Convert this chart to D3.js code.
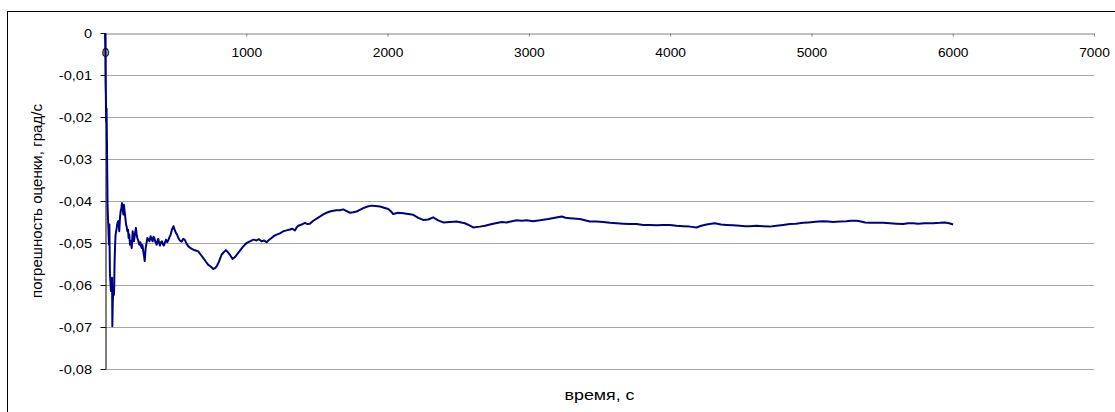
<!DOCTYPE html>
<html lang="ru">
<head>
<meta charset="UTF-8">
<title>Погрешность оценки</title>
<script src="https://d3js.org/d3.v7.min.js"></script>
<style>
    body { margin: 0; background: #fff; }
    svg { display: block; }
    text { font-family: "Liberation Sans", Arial, sans-serif; fill: #000; }
</style>
</head>
<body>
<svg id="chart" width="1115" height="412"></svg>
<script>
// time, s
const times = [0, 2, 4, 6, 8, 11, 14, 16, 18, 21, 24, 28, 31, 35, 38, 42, 46, 50, 52, 55, 59, 64, 68, 72, 75, 80, 83, 88, 94, 98,
    101, 106, 111, 116, 120, 125, 130, 134, 139, 144, 149, 154, 158, 163, 167, 172, 177, 183, 189, 196,
    200, 205, 212, 219, 224, 229, 236, 243, 250, 259, 265, 271, 276, 281, 285, 288, 294, 300, 308, 315,
    323, 330, 337, 343, 349, 357, 366, 372, 377, 383, 389, 396, 403, 410, 417, 425, 432, 440, 448, 456,
    465, 472, 479, 485, 490, 502, 510, 519, 530, 542, 554, 566, 578, 590, 605, 625, 642, 660, 678, 696,
    713, 731, 748, 766, 778, 790, 806, 825, 840, 856, 870, 884, 903, 918, 932, 955, 979, 1002, 1026, 1050,
    1073, 1090, 1108, 1126, 1144, 1160, 1179, 1197, 1215, 1238, 1262, 1285, 1309, 1326, 1344, 1356, 1368, 1392, 1415, 1433,
    1450, 1474, 1498, 1521, 1545, 1568, 1592, 1615, 1639, 1662, 1686, 1710, 1734, 1757, 1781, 1804, 1828, 1858, 1887, 1916,
    1946, 1975, 2005, 2025, 2040, 2075, 2111, 2147, 2182, 2217, 2252, 2288, 2323, 2358, 2394, 2441, 2488, 2547, 2580, 2606,
    2653, 2690, 2724, 2765, 2807, 2842, 2880, 2913, 2950, 2984, 3030, 3078, 3137, 3185, 3232, 3260, 3290, 3361, 3432, 3480,
    3526, 3575, 3621, 3668, 3715, 3762, 3809, 3856, 3903, 3950, 3998, 4045, 4092, 4140, 4186, 4220, 4257, 4290, 4316, 4360,
    4399, 4445, 4493, 4530, 4564, 4610, 4658, 4705, 4752, 4800, 4847, 4890, 4941, 4980, 5012, 5050, 5082, 5120, 5153, 5200,
    5248, 5280, 5319, 5342, 5380, 5413, 5460, 5507, 5555, 5601, 5649, 5684, 5720, 5755, 5800, 5861, 5910, 5944, 5975, 6003];

// estimation error, deg/s
const errors = [0, -0.004, -0.012, -0.0147, -0.021, -0.018, -0.0266, -0.034, -0.0409, -0.044, -0.0464, -0.0504, -0.0456, -0.0575, -0.059, -0.0614, -0.060, -0.0583, -0.0698, -0.064,
    -0.0615, -0.0623, -0.0543, -0.050, -0.048, -0.0470, -0.0464, -0.0452, -0.0448, -0.0460,
    -0.0472, -0.0440, -0.0424, -0.0418, -0.0405, -0.0420, -0.0432, -0.0409, -0.0425, -0.0440, -0.0456, -0.0462, -0.0472, -0.0468, -0.0488, -0.0480, -0.0504, -0.0495, -0.0512, -0.0472,
    -0.0485, -0.0496, -0.0478, -0.0464, -0.0480, -0.0488, -0.0495, -0.0504, -0.0498, -0.0512, -0.0505, -0.0520, -0.0530, -0.0543, -0.0525, -0.0512, -0.0500, -0.0488, -0.0492, -0.0496,
    -0.0484, -0.0490, -0.0496, -0.0485, -0.0488, -0.0498, -0.0504, -0.0494, -0.0490, -0.0500, -0.0506, -0.0498, -0.0496, -0.0503, -0.0506, -0.0498, -0.0492, -0.0498, -0.0494, -0.0486,
    -0.0480, -0.0470, -0.0464, -0.0460, -0.0466, -0.0476, -0.0480, -0.0488, -0.0494, -0.0497, -0.0490, -0.0493, -0.0502, -0.0508, -0.0512, -0.0516, -0.0518, -0.0520, -0.0528, -0.0536,
    -0.0544, -0.0552, -0.0556, -0.0562, -0.0560, -0.0556, -0.0545, -0.0528, -0.0522, -0.0517, -0.0522, -0.0528, -0.0538, -0.0534, -0.0528, -0.0518, -0.0508, -0.0500, -0.0496, -0.0492,
    -0.0494, -0.0491, -0.0496, -0.0494, -0.0498, -0.0493, -0.0488, -0.0483, -0.0480, -0.0477, -0.0472, -0.0470, -0.0468, -0.0466, -0.0470, -0.0463, -0.0459, -0.0456, -0.0452, -0.0455,
    -0.0454, -0.0447, -0.0442, -0.0437, -0.0432, -0.0428, -0.0425, -0.0423, -0.0422, -0.0422, -0.0420, -0.0424, -0.0428, -0.0427, -0.0425, -0.0421, -0.0417, -0.0413, -0.0411, -0.0412,
    -0.0413, -0.0416, -0.0419, -0.0425, -0.0431, -0.0428, -0.0429, -0.0431, -0.0433, -0.0440, -0.0445, -0.0444, -0.0439, -0.0446, -0.0451, -0.0450, -0.0449, -0.0453, -0.0458, -0.0463,
    -0.0461, -0.0459, -0.0456, -0.0453, -0.0450, -0.0451, -0.0448, -0.0446, -0.0447, -0.0446, -0.0448, -0.0446, -0.0443, -0.0440, -0.0437, -0.0440, -0.0441, -0.0443, -0.0449, -0.0449,
    -0.0450, -0.0452, -0.0453, -0.0454, -0.0455, -0.0455, -0.0457, -0.0457, -0.0458, -0.0457, -0.0457, -0.0459, -0.0460, -0.0461, -0.0463, -0.0459, -0.0456, -0.0454, -0.0453, -0.0456,
    -0.0457, -0.0458, -0.0459, -0.0460, -0.0460, -0.0459, -0.0460, -0.0461, -0.0459, -0.0457, -0.0455, -0.0454, -0.0452, -0.0451, -0.0450, -0.0449, -0.0448, -0.0449, -0.0450, -0.0449,
    -0.0448, -0.0447, -0.0447, -0.0448, -0.0451, -0.0452, -0.0452, -0.0452, -0.0453, -0.0454, -0.0455, -0.0453, -0.0453, -0.0454, -0.0453, -0.0453, -0.0452, -0.0451, -0.0453, -0.0456];

const xTicks = [0, 1000, 2000, 3000, 4000, 5000, 6000, 7000];
const yTicks = [0, -0.01, -0.02, -0.03, -0.04, -0.05, -0.06, -0.07, -0.08];

const svg = d3.select("#chart");
const margin = { left: 105, right: 21, top: 33, bottom: 43 };
const width = +svg.attr("width");
const height = +svg.attr("height");

// outer chart frame
svg.append("rect")
    .attr("x", 7.5).attr("y", 11.5)
    .attr("width", 1120).attr("height", 420)
    .attr("fill", "none").attr("stroke", "#000").attr("stroke-width", 1);

const x = d3.scaleLinear().domain([0, 7000]).range([margin.left, width - margin.right]);
const y = d3.scaleLinear().domain([-0.08, 0]).range([height - margin.bottom, margin.top]);

const ru = d3.formatLocale({ decimal: ",", thousands: " ", grouping: [3], currency: ["", ""], minus: "-" });
const fmtY = d => d === 0 ? "0" : ru.format(".2f")(d);

// horizontal gridlines
svg.append("g")
    .selectAll("line")
    .data(yTicks.filter(d => d !== 0))
    .join("line")
    .attr("x1", x(0)).attr("x2", x(7000))
    .attr("y1", d => Math.round(y(d)) + 0.5).attr("y2", d => Math.round(y(d)) + 0.5)
    .attr("stroke", "#a6a6a6").attr("stroke-width", 1);

// x axis sits on the zero line, labels underneath
const xAxis = svg.append("g")
    .attr("transform", `translate(0,${Math.round(y(0)) + 0.5})`)
    .call(d3.axisBottom(x).tickValues(xTicks).tickSize(3).tickSizeOuter(0).tickFormat(d3.format("d")));
xAxis.select(".domain").attr("stroke", "#808080");
xAxis.selectAll(".tick line").attr("stroke", "#808080");
xAxis.selectAll(".tick text")
    .attr("font-size", 13).attr("y", 0).attr("dy", 24)
    .attr("transform", "scale(1.06,1)")
    .attr("font-family", "Liberation Sans, Arial, sans-serif");

// y axis
const yAxis = svg.append("g")
    .attr("transform", `translate(${Math.round(x(0)) + 0.5},0)`)
    .call(d3.axisLeft(y).tickValues(yTicks).tickSize(5).tickSizeOuter(0).tickFormat(fmtY));
yAxis.select(".domain").attr("stroke", "#000");
yAxis.selectAll(".tick line").attr("stroke", "#000");
yAxis.selectAll(".tick text")
    .attr("font-size", 13).attr("x", -13.5).attr("dy", "0.35em")
    .attr("textLength", function () { return this.getComputedTextLength() * 1.12; })
    .attr("lengthAdjust", "spacingAndGlyphs")
    .attr("font-family", "Liberation Sans, Arial, sans-serif");

// series line
const pts = times.map((t, i) => [t, errors[i]]);
svg.append("path")
    .datum(pts)
    .attr("fill", "none")
    .attr("stroke", "#000080")
    .attr("stroke-width", 2)
    .attr("stroke-linejoin", "round")
    .attr("d", d3.line().x(d => x(d[0])).y(d => y(d[1])));

// axis titles
svg.append("text")
    .attr("x", (x(0) + x(7000)) / 2).attr("y", 400)
    .attr("text-anchor", "middle")
    .attr("font-size", 14)
    .attr("textLength", 70).attr("lengthAdjust", "spacingAndGlyphs")
    .text("время, с");

svg.append("text")
    .attr("transform", `translate(42,${(y(0) + y(-0.08)) / 2}) rotate(-90)`)
    .attr("text-anchor", "middle")
    .attr("font-size", 14)
    .attr("textLength", 194).attr("lengthAdjust", "spacingAndGlyphs")
    .text("погрешность оценки, град/с");
</script>
</body>
</html>
